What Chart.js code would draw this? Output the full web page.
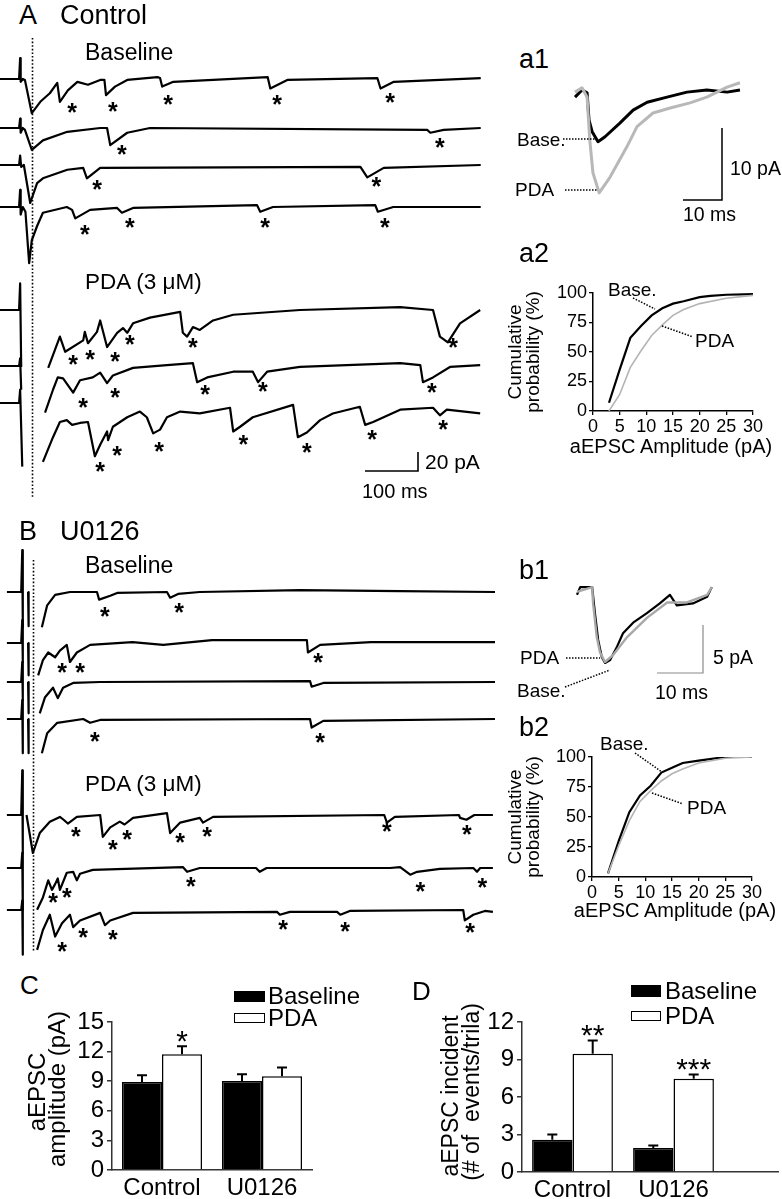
<!DOCTYPE html>
<html>
<head>
<meta charset="utf-8">
<script src="https://cdn.jsdelivr.net/npm/chart.js@4.4.1/dist/chart.umd.min.js"></script>
<style>
body { margin: 0; background: #fff; }
#page { position: relative; width: 782px; height: 1199px; overflow: hidden;
        font-family: "Liberation Sans", Arial, sans-serif; color: #000; }
canvas { position: absolute; }
.t { position: absolute; white-space: pre; line-height: 1; }
.box { position: absolute; box-sizing: border-box; }
</style>
</head>
<body>
<div id="page"></div>
<script>
Chart.defaults.font.family = '"Liberation Sans", Arial, sans-serif';
Chart.defaults.color = "#000";
const page = document.getElementById("page");

// ---------- data ----------
// sweeps are [ms, pA], pA relative to the sweep's holding level
// null = blanked stimulus artifact

// A, control slice, baseline sweeps
const ctlBase1 = [[0,0],[36,0],[38,22],[39,-3],[43,0],[47,-1],[60,-36],[76,-24],[94,-15],[108,-4],[113,-24],[128,-12],[146,-3],[166,-6],[189,-1],[197,-1],[200,-17],[217,-8],[240,-1],[297,2],[302,1],[306,-8],[327,-3],[505,2],[510,-10],[542,-1],[712,1],[718,-10],[743,-3],[907,1]];
const ctlBase2 = [[0,0],[36,0],[38,10],[39,-5],[43,0],[47,-2],[60,-23],[81,-13],[127,-4],[189,0],[202,0],[208,-18],[240,-5],[283,0],[806,-2],[812,-5],[837,-2],[907,0]];
const ctlBase3 = [[0,0],[36,0],[38,10],[40,-2],[45,0],[57,-40],[70,-19],[81,-14],[127,-5],[157,-3],[164,-14],[189,-3],[680,-2],[693,-13],[724,-3],[907,0]];
const ctlBase4 = [[0,0],[36,0],[38,18],[39,-8],[43,0],[48,-5],[55,-59],[60,-35],[70,-20],[81,-6],[126,0],[136,-3],[142,-12],[170,-3],[221,-1],[230,-6],[251,-1],[485,2],[491,-5],[515,0],[708,2],[713,-5],[742,0],[907,0]];
// A, PDA sweeps
const ctlPda1 = [[0,0],[36,0],[38,28],[40,-60],[41,null],[91,-61],[113,-28],[123,-44],[157,-32],[160,-23],[166,-35],[183,-23],[189,-11],[202,-39],[221,-24],[232,-19],[240,-24],[251,-14],[283,-8],[340,-2],[345,-24],[353,-28],[364,-18],[377,-21],[402,-11],[440,-5],[566,0],[755,3],[817,0],[830,-28],[845,-34],[868,-14],[906,0]];
const ctlPda2 = [[0,0],[36,0],[38,8],[40,-25],[41,null],[85,-49],[100,-25],[109,-12],[119,-13],[138,-28],[151,-15],[175,-12],[189,-7],[202,-18],[213,-10],[251,-2],[315,1],[364,3],[372,-17],[391,-12],[440,-6],[477,-6],[487,-17],[504,-6],[566,-1],[755,3],[793,1],[798,-17],[817,-12],[849,-1],[906,1]];
const ctlPda3 = [[0,0],[36,0],[38,14],[42,-67],[43,null],[81,-62],[100,-36],[113,-20],[126,-18],[136,-23],[151,-21],[166,-20],[179,-56],[189,-44],[202,-30],[204,-39],[213,-25],[240,-15],[264,-9],[277,-15],[289,-32],[302,-28],[315,-15],[340,-9],[377,-11],[434,-5],[440,-30],[453,-25],[477,-15],[553,-2],[562,-36],[579,-31],[604,-18],[628,-11],[679,-4],[689,-23],[704,-20],[755,-7],[817,-5],[830,-13],[843,-7],[906,-11]];
// detected events (asterisks), [ms, pA]
const ctlStars = [
  [[136,-30],[213,-29],[317,-22],[523,-22],[736,-20]],
  [[230,-23],[830,-16]],
  [[183,-21],[710,-18]],
  [[160,-24],[245,-17],[500,-17],[726,-17]],
  [[138,-53],[170,-47],[217,-49],[245,-32],[364,-35],[855,-35]],
  [[157,-39],[217,-28],[387,-25],[496,-22],[815,-23]],
  [[189,-67],[221,-51],[300,-46],[459,-39],[579,-47],[702,-34],[836,-23]]
];

// B, U0126 slice, baseline sweeps
const u0Base1 = [[13,0],[40,0],[42,44],[43,-37],[44,null],[53,0],[54,-36],[55,null],[79,-37],[89,-14],[104,-3],[132,0],[183,0],[187,-8],[208,-4],[221,-1],[315,0],[321,-6],[336,-2],[377,0],[566,2],[755,1],[934,0]];
const u0Base2 = [[13,0],[40,0],[42,24],[43,-20],[44,null],[53,0],[54,-34],[55,null],[72,-34],[81,-18],[91,-10],[104,-15],[113,-8],[126,-2],[132,-20],[145,-10],[170,-2],[250,1],[308,-2],[400,3],[579,3],[581,-10],[604,-2],[700,1],[934,1]];
const u0Base3 = [[13,0],[40,0],[42,21],[43,-19],[44,null],[53,0],[54,-33],[55,null],[75,-33],[85,-16],[100,-6],[109,-17],[119,-6],[138,-1],[189,0],[585,1],[588,-5],[610,-1],[934,0]];
const u0Base4 = [[13,0],[40,0],[42,20],[43,-36],[44,null],[53,0],[54,-36],[55,null],[79,-36],[89,-15],[108,-4],[157,0],[170,-4],[189,-1],[585,0],[588,-9],[610,-2],[934,0]];
// B, PDA sweeps
const u0Pda1 = [[13,0],[40,0],[42,47],[43,-40],[44,null],[50,0],[62,-40],[75,-19],[94,-7],[113,-2],[120,-5],[128,-9],[145,-2],[189,0],[194,-23],[208,-13],[226,-7],[235,-10],[251,-3],[315,2],[321,-19],[340,-8],[377,-3],[383,-8],[402,-2],[725,0],[730,-8],[745,-2],[866,0],[868,-3],[880,-5],[895,0],[930,0]];
const u0Pda2 = [[13,0],[40,0],[42,16],[43,-44],[44,null],[70,-44],[81,-31],[91,-13],[98,-23],[104,-17],[109,-11],[113,-23],[126,-5],[138,-4],[145,-13],[151,-6],[175,-2],[345,1],[353,-4],[377,0],[483,0],[490,-4],[503,0],[736,0],[755,1],[774,-7],[787,-4],[830,-1],[893,0],[900,-4],[906,0],[930,0]];
const u0Pda3 = [[13,0],[40,0],[42,10],[43,-47],[44,null],[70,-42],[81,-21],[94,-5],[104,-28],[117,-14],[132,-5],[138,-18],[151,-11],[189,-3],[198,-16],[208,-11],[251,-3],[523,-2],[528,-5],[547,-2],[636,-2],[642,-5],[660,-1],[874,0],[877,-11],[893,-5],[915,-1],[930,-2]];
const u0Stars = [
  [[198,-21],[338,-17]],
  [[117,-26],[151,-26],[600,-16]],
  [],
  [[179,-19],[604,-20]],
  [[143,-18],[213,-32],[240,-21],[340,-24],[391,-18],[730,-13],[881,-16]],
  [[100,-32],[126,-26],[360,-15],[793,-20],[910,-16]],
  [[117,-39],[157,-24],[213,-26],[534,-16],[651,-18],[887,-19]]
];

// a1 / b1 averaged aEPSCs, [ms, pA]
const a1Base = [[0,-0.3],[1.8,0.7],[3.1,0.3],[3.6,-3.5],[4.4,-5.1],[5.9,-6.5],[7.7,-5.8],[11.5,-3.9],[14.9,-2.1],[18.5,-1.0],[23.6,-0.3],[28.7,0.4],[33.8,0.7],[39,0.4],[42.3,0.7]];
const a1Pda = [[0,0.4],[1.8,1],[3.1,-0.3],[3.8,-6.3],[4.6,-10.8],[6.2,-13.6],[9,-11.4],[13.3,-7.2],[15.9,-4.4],[20,-2.5],[24.4,-1.8],[29.5,-1.1],[33.8,-0.3],[39,1.1],[42.3,1.7]];
const b1Base = [[0,-0.5],[0.7,0.3],[3.3,0.3],[3.9,-2.4],[4.6,-5.2],[5.4,-7.0],[6.1,-7.6],[7.2,-7.3],[8.7,-5.9],[10,-4.5],[12.2,-3.4],[15.2,-2.4],[18,-1.4],[20.2,-0.5],[21.7,-1.6],[25.2,-1.4],[28.3,-0.7],[29.3,0.3]];
const b1Pda = [[0,-0.2],[3.3,0.3],[3.5,-1.4],[4.3,-4.9],[5,-6.5],[6.1,-7.5],[7.8,-6.8],[10.9,-4.9],[15.2,-2.9],[19.6,-1.3],[23.9,-1.3],[28.3,-0.5],[29.3,0.3]];

// a2 / b2 cumulative amplitude distributions, [pA, %]
const a2Base = [[3,7],[5,35],[7,62],[9,72],[11,81],[13,87],[15,91],[17,93],[20,96.5],[22,97.5],[25,98.5],[30,99]];
const a2Pda = [[3,0],[5,14],[7,37],[9,51],[11,64],[13,73],[15,81],[17,86],[20,91],[25,95.5],[30,98]];
const b2Base = [[3,3],[5,30],[7,54],[9,68],[11,76],[13,87],[15,91],[17,95],[20,97],[25,100],[30,100]];
const b2Pda = [[3,3],[5,26],[7,47],[9,63],[11,72],[13,80],[15,86],[17,90],[20,95],[25,99],[30,100]];

// C / D summary bars
const groups = ["Control", "U0126"];
const ampBase = [8.93, 9.03], ampBaseErr = [0.67, 0.68];
const ampPda = [11.73, 9.5], ampPdaErr = [0.81, 0.88];
const ampSig = ["*", ""];
const incBase = [2.59, 1.92], incBaseErr = [0.42, 0.21];
const incPda = [9.47, 7.47], incPdaErr = [1.06, 0.34];
const incSig = ["**", "***"];

// ---------- helpers ----------
function mkCanvas(b) {
  const cv = document.createElement("canvas");
  cv.width = b.w; cv.height = b.h;
  cv.style.left = b.x + "px"; cv.style.top = b.y + "px";
  cv.style.width = b.w + "px"; cv.style.height = b.h + "px";
  page.appendChild(cv);
  return cv;
}

function txt(s, x, cy, size, center) {
  const d = document.createElement("div");
  d.className = "t";
  d.textContent = s;
  d.style.fontSize = size + "px";
  d.style.left = x + "px";
  d.style.top = (cy - 0.487 * size) + "px";
  if (center) d.style.transform = "translateX(-50%)";
  page.appendChild(d);
}

function vtxt(s, cx, cy, size) {
  const d = document.createElement("div");
  d.className = "t";
  d.textContent = s;
  d.style.fontSize = size + "px";
  d.style.left = cx + "px";
  d.style.top = cy + "px";
  d.style.transform = "translate(-50%,-50%) rotate(-90deg)";
  page.appendChild(d);
}

function box(x, y, w, h, fill) {
  const d = document.createElement("div");
  d.className = "box";
  Object.assign(d.style, { left: x + "px", top: y + "px", width: w + "px", height: h + "px",
    background: fill, border: "1.5px solid #000" });
  page.appendChild(d);
}

const baseOpts = {
  animation: false, responsive: false, devicePixelRatio: 1, events: [],
  plugins: { legend: { display: false }, tooltip: { enabled: false } }
};

// stacked sweeps drawn on ms / pA scales, one chart per block
function sweepChart(c) {
  const cv = mkCanvas(c.box);
  const off = c.rows.map(r => (r - c.box.y) * c.paPerPx);
  const datasets = c.sweeps.map((s, i) => ({
    data: s.map(p => [p[0], p[1] === null ? null : p[1] - off[i]]),
    borderColor: c.colors ? c.colors[i] : "#000",
    borderWidth: c.widths ? c.widths[i] : 2.2,
    showLine: true, pointRadius: 0, spanGaps: false, clip: false,
    borderJoinStyle: "round"
  }));
  const deco = {
    id: "deco",
    afterDatasetsDraw(chart) {
      const { ctx, scales: { x, y } } = chart;
      ctx.save();
      if (c.stim) {
        const px = Math.round(x.getPixelForValue(c.stim.t)) + 0.5;
        ctx.strokeStyle = "#000"; ctx.lineWidth = 1.6; ctx.setLineDash([1.6, 2]);
        ctx.beginPath();
        ctx.moveTo(px, c.stim.y1 - c.box.y); ctx.lineTo(px, c.stim.y2 - c.box.y);
        ctx.stroke();
        ctx.setLineDash([]);
      }
      if (c.stars) {
        ctx.fillStyle = "#000";
        ctx.font = 'bold 25px "Liberation Sans", Arial, sans-serif';
        ctx.textAlign = "center"; ctx.textBaseline = "alphabetic";
        const m = ctx.measureText("*");
        const mid = (m.actualBoundingBoxAscent - m.actualBoundingBoxDescent) / 2;
        c.stars.forEach((list, i) => {
          for (const s of list) {
            ctx.fillText("*", x.getPixelForValue(s[0]), y.getPixelForValue(s[1] - off[i]) + mid);
          }
        });
      }
      if (c.bar) {
        const w = x.getPixelForValue(c.bar.ms) - x.getPixelForValue(0);
        const h = y.getPixelForValue(0) - y.getPixelForValue(c.bar.pa);
        const bx = c.bar.x - c.box.x, by = c.bar.y - c.box.y;
        ctx.strokeStyle = c.bar.color; ctx.lineWidth = c.bar.width;
        ctx.beginPath();
        ctx.moveTo(bx - w, by); ctx.lineTo(bx, by); ctx.lineTo(bx, by - h);
        ctx.stroke();
      }
      ctx.restore();
    }
  };
  new Chart(cv, {
    type: "scatter",
    data: { datasets },
    options: Object.assign({}, baseOpts, {
      layout: { padding: 0 },
      scales: {
        x: { type: "linear", display: false,
             min: (c.box.x - c.x0) * c.msPerPx, max: (c.box.x + c.box.w - c.x0) * c.msPerPx },
        y: { type: "linear", display: false, min: -c.box.h * c.paPerPx, max: 0 }
      }
    }),
    plugins: [deco]
  });
}

function cumChart(b, area, base, pda) {
  const cv = mkCanvas(b);
  const axisGrid = { drawOnChartArea: false, tickLength: 4, color: "#000", lineWidth: 1.3 };
  const axisBorder = { color: "#000", width: 1.5 };
  new Chart(cv, {
    type: "scatter",
    data: { datasets: [
      { data: pda, borderColor: "#b4b4b4", borderWidth: 1.6, showLine: true, pointRadius: 0 },
      { data: base, borderColor: "#000", borderWidth: 2.2, showLine: true, pointRadius: 0 }
    ] },
    options: Object.assign({}, baseOpts, {
      layout: { padding: { left: 0, bottom: 0, top: area.top - b.y, right: b.x + b.w - area.right } },
      scales: {
        x: { type: "linear", min: 0, max: 30,
             ticks: { stepSize: 5, font: { size: 18 }, padding: 1, maxRotation: 0, autoSkip: false },
             grid: axisGrid, border: axisBorder,
             afterFit: s => { s.height = b.y + b.h - area.bottom; } },
        y: { type: "linear", min: 0, max: 100,
             ticks: { stepSize: 25, font: { size: 18 }, padding: 2, autoSkip: false },
             grid: axisGrid, border: axisBorder,
             afterFit: s => { s.width = area.left - b.x; } }
      }
    })
  });
}

function barChart(c) {
  const cv = mkCanvas(c.box);
  const u = c.centers[1] - c.centers[0];
  const xmin = 1 - (c.centers[0] - c.area.left) / u;
  const xmax = xmin + (c.area.right - c.area.left) / u;
  const errs = {
    id: "errs",
    afterDatasetsDraw(chart) {
      const { ctx, scales: { y } } = chart;
      ctx.save();
      ctx.strokeStyle = "#000"; ctx.fillStyle = "#000"; ctx.lineWidth = 2;
      [[c.base, c.baseErr, null], [c.pda, c.pdaErr, c.sig]].forEach((set, di) => {
        chart.getDatasetMeta(di).data.forEach((bar, i) => {
          const top = y.getPixelForValue(set[0][i]);
          const e = y.getPixelForValue(set[0][i] + set[1][i]);
          ctx.beginPath();
          ctx.moveTo(bar.x, top); ctx.lineTo(bar.x, e);
          ctx.moveTo(bar.x - 5, e); ctx.lineTo(bar.x + 5, e);
          ctx.stroke();
          if (set[2] && set[2][i]) {
            ctx.font = '30px "Liberation Sans", Arial, sans-serif';
            ctx.textAlign = "center";
            const m = ctx.measureText(set[2][i]);
            const mid = (m.actualBoundingBoxAscent - m.actualBoundingBoxDescent) / 2;
            ctx.fillText(set[2][i], bar.x, e - 10 + mid);
          }
        });
      });
      ctx.restore();
    }
  };
  new Chart(cv, {
    type: "bar",
    data: { datasets: [
      { data: c.base.map((v, i) => ({ x: i + 1, y: v })), backgroundColor: "#000", borderColor: "#000",
        borderWidth: 1.5, categoryPercentage: 0.8, barPercentage: 1 },
      { data: c.pda.map((v, i) => ({ x: i + 1, y: v })), backgroundColor: "#fff", borderColor: "#000",
        borderWidth: 1.5, categoryPercentage: 0.8, barPercentage: 1 }
    ] },
    options: Object.assign({}, baseOpts, {
      layout: { padding: { left: 0, bottom: 0, top: c.area.top - c.box.y, right: c.box.x + c.box.w - c.area.right } },
      scales: {
        x: { type: "linear", min: xmin, max: xmax, offset: false,
             afterBuildTicks: s => { s.ticks = groups.map((g, i) => ({ value: i + 1 })); },
             ticks: { callback: v => groups[v - 1], font: { size: 24 }, padding: 4, autoSkip: false, maxRotation: 0 },
             grid: { display: false, drawTicks: false }, border: { color: "#333", width: 1.5 },
             afterFit: s => { s.height = c.box.y + c.box.h - c.area.bottom; } },
        y: { type: "linear", min: 0, max: c.ymax,
             ticks: { stepSize: 3, font: { size: 24 }, padding: 3, autoSkip: false },
             grid: { drawOnChartArea: false, tickLength: 5, color: "#333", lineWidth: 1.5 },
             border: { color: "#333", width: 1.5 },
             afterFit: s => { s.width = c.area.left - c.box.x; } }
      }
    }),
    plugins: [errs]
  });
}

// ---------- panels ----------
// A: 100 ms bar = 53 px, 20 pA bar = 19 px
sweepChart({
  box: { x: 0, y: 30, w: 500, h: 470 }, x0: 0, msPerPx: 100 / 53, paPerPx: 20 / 19,
  sweeps: [ctlBase1, ctlBase2, ctlBase3, ctlBase4, ctlPda1, ctlPda2, ctlPda3],
  rows: [79, 128, 165, 207, 310, 366, 403],
  stars: ctlStars,
  stim: { t: 60, y1: 38, y2: 498 },
  bar: { x: 418, y: 471, ms: 100, pa: 20, color: "#000", width: 1.6 }
});
// B
sweepChart({
  box: { x: 0, y: 540, w: 520, h: 425 }, x0: 0, msPerPx: 100 / 53, paPerPx: 20 / 19,
  sweeps: [u0Base1, u0Base2, u0Base3, u0Base4, u0Pda1, u0Pda2, u0Pda3],
  rows: [592, 643, 682, 719, 815, 868, 910],
  stars: u0Stars,
  stim: { t: 62, y1: 560, y2: 952 }
});
// a1
sweepChart({
  box: { x: 560, y: 70, w: 222, h: 150 }, x0: 575, msPerPx: 10 / 39, paPerPx: 10 / 72,
  sweeps: [a1Pda, a1Base], rows: [95, 95], colors: ["#b8b8b8", "#000"], widths: [3, 3],
  bar: { x: 722, y: 200, ms: 10, pa: 10, color: "#000", width: 1.5 }
});
// b1
sweepChart({
  box: { x: 560, y: 575, w: 222, h: 110 }, x0: 577, msPerPx: 10 / 46, paPerPx: 5 / 48,
  sweeps: [b1Pda, b1Base], rows: [590, 590], colors: ["#a8a8a8", "#000"], widths: [2.4, 2.2],
  bar: { x: 703, y: 673, ms: 10, pa: 5, color: "#8a8a8a", width: 1.2 }
});
// a2, b2
cumChart({ x: 500, y: 270, w: 282, h: 180 }, { left: 593, right: 753, top: 293, bottom: 411 }, a2Base, a2Pda);
cumChart({ x: 500, y: 735, w: 282, h: 180 }, { left: 592, right: 752, top: 757, bottom: 877 }, b2Base, b2Pda);
// C, D
barChart({ box: { x: 0, y: 1000, w: 340, h: 199 }, area: { left: 112, right: 312, top: 1022, bottom: 1170 },
  centers: [162, 262], ymax: 15, base: ampBase, baseErr: ampBaseErr, pda: ampPda, pdaErr: ampPdaErr, sig: ampSig });
barChart({ box: { x: 400, y: 1000, w: 382, h: 199 }, area: { left: 522, right: 778, top: 1022, bottom: 1172 },
  centers: [572.5, 673.5], ymax: 12, base: incBase, baseErr: incBaseErr, pda: incPda, pdaErr: incPdaErr, sig: incSig });

// ---------- text ----------
txt("A", 19, 15, 27); txt("Control", 60, 15, 27);
txt("Baseline", 85, 52, 23); txt("PDA (3 \u03bcM)", 85, 282, 22.5);
txt("20 pA", 425, 461, 21); txt("100 ms", 362, 491, 20);
txt("B", 19, 531, 27); txt("U0126", 60, 531, 27);
txt("Baseline", 85, 565, 23); txt("PDA (3 \u03bcM)", 85, 784, 22.5);

txt("a1", 519, 59, 27);
txt("Base.", 517, 139, 19); txt("PDA", 515, 189, 19);
txt("10 pA", 730, 168, 19.5); txt("10 ms", 683, 214, 19.5);

txt("a2", 519, 253, 27);
txt("Base.", 608, 289, 19); txt("PDA", 695, 340, 19);
vtxt("Cumulative", 514, 352, 19); vtxt("probability (%)", 532, 352, 19);
txt("aEPSC Amplitude (pA)", 671, 446, 20, true);

txt("b1", 519, 570, 27);
txt("PDA", 520, 657, 19); txt("Base.", 517, 690, 19);
txt("5 pA", 713, 657, 19.5); txt("10 ms", 655, 692, 19.5);

txt("b2", 519, 727, 27);
txt("Base.", 600, 743, 19); txt("PDA", 687, 807, 19);
vtxt("Cumulative", 514, 817, 19); vtxt("probability (%)", 532, 817, 19);
txt("aEPSC Amplitude (pA)", 675, 910, 20, true);

txt("C", 20, 985, 26);
vtxt("aEPSC", 37, 1092, 24); vtxt("amplitude (pA)", 57, 1089, 24);
box(234, 991, 31, 11, "#000"); txt("Baseline", 268, 996, 24);
box(234, 1013, 31, 10, "#fff"); txt("PDA", 268, 1018, 24);

txt("D", 412, 991, 26);
vtxt("aEPSC incident", 450, 1096, 23); vtxt("(# of  events/trila)", 471, 1092, 23);
box(631, 985, 30, 12, "#000"); txt("Baseline", 665, 991, 24);
box(631, 1011, 30, 10, "#fff"); txt("PDA", 665, 1016, 24);

// dotted leaders for the Base./PDA labels
const svgNS = "http://www.w3.org/2000/svg";
const svg = document.createElementNS(svgNS, "svg");
svg.setAttribute("width", 782); svg.setAttribute("height", 1199);
svg.style.position = "absolute"; svg.style.left = "0"; svg.style.top = "0";
const leaders = [
  [563, 139, 597, 139], [565, 190, 598, 190],
  [633, 298, 655, 309], [662, 326, 693, 337],
  [566, 658, 600, 658], [565, 687, 610, 670],
  [635, 753, 662, 772], [652, 793, 683, 804]
];
for (const l of leaders) {
  const ln = document.createElementNS(svgNS, "line");
  ln.setAttribute("x1", l[0]); ln.setAttribute("y1", l[1]);
  ln.setAttribute("x2", l[2]); ln.setAttribute("y2", l[3]);
  ln.setAttribute("stroke", "#000"); ln.setAttribute("stroke-width", "1.5");
  ln.setAttribute("stroke-dasharray", "1.5 1.5");
  svg.appendChild(ln);
}
page.appendChild(svg);
</script>
</body>
</html>
